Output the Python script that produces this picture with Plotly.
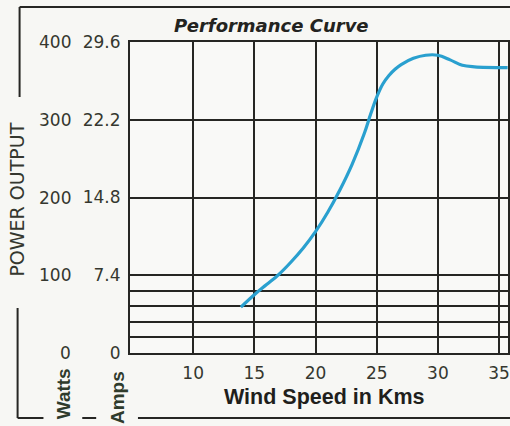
import plotly.graph_objects as go

# ---- data ----
wind_kms = [13.9, 15, 16, 17, 18, 19, 20, 21, 22, 23, 24, 24.5, 25, 25.5, 26, 26.5, 27, 28, 29, 30, 31, 32, 33, 35.7]
power_watts = [59, 75, 88, 101, 117, 135, 156, 181, 210, 243, 283, 307, 329, 346, 357, 365, 371, 379, 383, 383, 377, 370, 368, 367]

x_ticks = [10, 15, 20, 25, 30, 35]
watts_ticks = [0, 100, 200, 300, 400]
amps_labels = ["0", "7.4", "14.8", "22.2", "29.6"]
minor_watts = [20, 40, 60, 80]

# ---- geometry (pixels) ----
W, H = 510, 426
L, R, T, B = 130, 0, 42, 73
PW, PH = W - L - R, H - T - B

def px(x):
    return (x - L) / PW

def py(y):
    return (H - B - y) / PH

ink = "#262623"
label_col = "#35372f"

fig = go.Figure()
fig.add_trace(go.Scatter(
    x=wind_kms, y=power_watts, mode="lines",
    line=dict(color="#2aa0cf", width=3.2, shape="spline", smoothing=1.0),
    hoverinfo="skip", showlegend=False,
))

fig.update_layout(
    width=W, height=H,
    margin=dict(l=L, r=R, t=T, b=B),
    paper_bgcolor="#f7f7f4",
    plot_bgcolor="#f9f9f7",
    font=dict(family="DejaVu Sans", color=label_col, size=17),
    showlegend=False,
    xaxis=dict(
        range=[4.84, 35.73], tickvals=x_ticks, ticktext=[str(v) for v in x_ticks],
        showgrid=True, gridcolor=ink, gridwidth=2,
        showline=True, linecolor=ink, linewidth=2, mirror=True,
        ticks="", ticklabelstandoff=4, zeroline=False,
        tickfont=dict(family="DejaVu Sans", size=17, color=label_col),
    ),
    yaxis=dict(
        range=[0, 400], tickvals=watts_ticks, ticktext=amps_labels,
        showgrid=True, gridcolor=ink, gridwidth=2,
        minor=dict(tickvals=minor_watts, showgrid=True, gridcolor=ink, gridwidth=2),
        showline=True, linecolor=ink, linewidth=2, mirror=True,
        ticks="", ticklabelstandoff=4, zeroline=False,
        tickfont=dict(family="DejaVu Sans", size=17, color=label_col),
    ),
)

annotations = []
# Watts column labels
for v in watts_ticks:
    annotations.append(dict(
        x=px(73), xref="paper", y=v, yref="y", text=str(v), showarrow=False,
        xanchor="right", yanchor="middle",
        font=dict(family="DejaVu Sans", size=17, color=label_col),
    ))

annotations += [
    dict(x=px(272), y=py(25), xref="paper", yref="paper", text="<b><i>Performance Curve</i></b>",
         showarrow=False, xanchor="center", yanchor="middle",
         font=dict(family="DejaVu Sans", size=18, color="#232320")),
    dict(x=px(326), y=py(397), xref="paper", yref="paper", text="<b>Wind Speed in Kms</b>",
         showarrow=False, xanchor="center", yanchor="middle",
         font=dict(family="Liberation Sans", size=21.5, color="#1f1f1c")),
    dict(x=px(16), y=py(200), xref="paper", yref="paper", text="POWER OUTPUT",
         showarrow=False, textangle=-90, xanchor="center", yanchor="middle",
         font=dict(family="DejaVu Sans", size=19, color=label_col)),
    dict(x=px(63), y=py(394), xref="paper", yref="paper", text="<b>Watts</b>",
         showarrow=False, textangle=-90, xanchor="center", yanchor="middle",
         font=dict(family="Liberation Sans", size=19, color="#2f3b2c")),
    dict(x=px(117), y=py(398), xref="paper", yref="paper", text="<b>Amps</b>",
         showarrow=False, textangle=-90, xanchor="center", yanchor="middle",
         font=dict(family="Liberation Sans", size=19, color="#2f3b2c")),
]
fig.update_layout(annotations=annotations)

def seg(x0, y0, x1, y1):
    return dict(type="line", xref="paper", yref="paper",
                x0=px(x0), y0=py(y0), x1=px(x1), y1=py(y1),
                line=dict(color=ink, width=2), layer="above")

fig.update_layout(shapes=[
    seg(19, 7, 19, 97),
    seg(19, 7, 512, 7),
    seg(17, 308, 17, 418),
    seg(17, 418, 43, 418),
    seg(82, 418, 96, 418),
    seg(138, 418, 512, 418),
])

fig.write_html(
    "out.html",
    config={"displayModeBar": False},
    post_script="document.body.style.margin='0';document.body.style.overflow='hidden';",
)
